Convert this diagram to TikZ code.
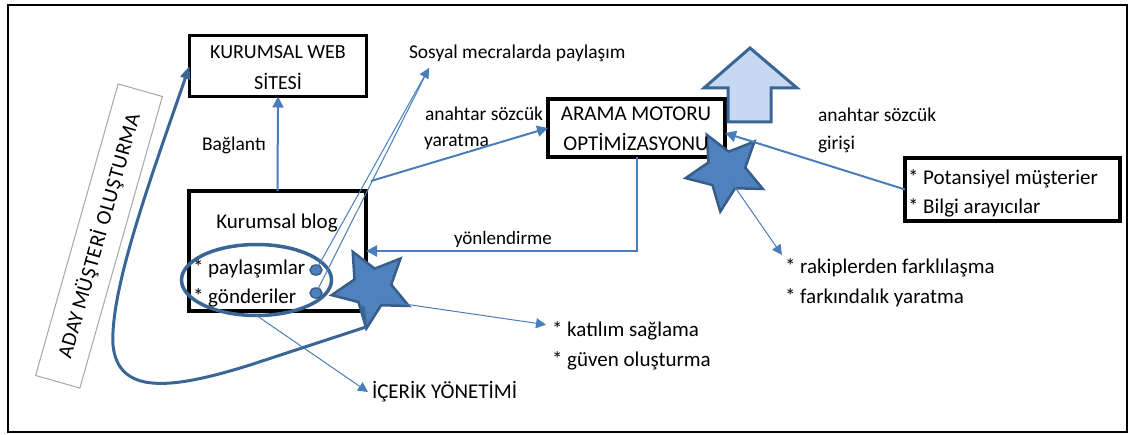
\documentclass[tikz,border=0pt]{standalone}
\usepackage{fontspec}
\setmainfont{Carlito}
\usetikzlibrary{arrows.meta,shapes.geometric}
\definecolor{lineblue}{HTML}{4A7EBB}
\definecolor{darkblue}{HTML}{3A6696}
\definecolor{starfill}{HTML}{4F81BD}
\definecolor{starline}{HTML}{385D8A}
\definecolor{paleblue}{HTML}{C6D9F1}
\begin{document}
\begin{tikzpicture}[x=1pt,y=-1pt,
  every node/.style={inner sep=0pt, outer sep=0pt},
  small/.style={font=\fontsize{19.5}{24}\selectfont},
  big/.style={font=\fontsize{21}{26}\selectfont},
  txt/.style={big, anchor=base west},
  stxt/.style={small, anchor=base west},
  ctxt/.style={big, anchor=base},
  boxframe/.style={draw=black, line width=3.5pt, rectangle},
  starnode/.style={star, star points=5, star point ratio=2.1, minimum size=82pt,
    shape border rotate=-44, fill=starfill, draw=starline, line width=2.5pt},
  thickconn/.style={draw=lineblue, line width=2pt, -{Triangle[length=11pt,width=11pt]}},
  thinconn/.style={draw=lineblue, line width=1pt, -{Triangle[length=10pt,width=10pt]}},
  smalldot/.style={ellipse, minimum width=12pt, minimum height=10pt,
    fill=starfill, draw=starline, line width=1.5pt}
]
\useasboundingbox (0,0) rectangle (1134,435);
% outer frame
\draw[black, line width=2pt] (8,5) rectangle (1127,432);

% boxes
\node[boxframe, minimum width=177pt, minimum height=61pt] (web) at (278,66) {};
\node[boxframe, minimum width=177pt, minimum height=120pt] (blog) at (277.5,251) {};
\node[boxframe, minimum width=177pt, minimum height=58pt] (arama) at (636.5,128) {};
\node[boxframe, minimum width=215pt, minimum height=63pt] (pot) at (1012.5,189.5) {};

% rotated caption box on the left
\node[draw=black!35, line width=1pt, minimum width=303pt, minimum height=46pt,
      rotate=74.2, font=\fontsize{21}{26}\selectfont\addfontfeature{LetterSpace=3}]
      (aday) at (99,236) {ADAY\,MÜŞTERİ OLUŞTURMA};

% ellipse around the blog items
\node[ellipse, draw=darkblue, line width=3.5pt, minimum width=150pt, minimum height=71pt]
      (circ) at (256.5,280) {};

% block arrow pointing up
\draw[darkblue, line width=3pt, fill=paleblue, line join=miter]
  (750,48) -- (797,88) -- (771,88) -- (771,122) -- (728,122) -- (728,88) -- (704,88) -- cycle;

% stars
\node[starnode] (starL) at (372,288) {};
\node[starnode] (starR) at (726,171) {};

% dots on the blog items
\node[smalldot] (dotA) at (316,270) {};
\node[smalldot] (dotB) at (316,293) {};

% texts
\node[ctxt, font=\fontsize{20}{24}\selectfont] (webA) at (278,58.7) {KURUMSAL WEB};
\node[ctxt, font=\fontsize{20}{24}\selectfont] (webB) at (278,89.3) {SİTESİ};
\node[stxt] (bag) at (202,150.7) {Bağlantı};
\node[ctxt] (blogT) at (277,229) {Kurumsal blog};
\node[txt] (pay) at (193,275) {* paylaşımlar};
\node[txt] (gon) at (193,304) {* gönderiler};
\node[stxt] (sosyal) at (409,58.7) {Sosyal mecralarda paylaşım};
\node[stxt] (anaL) at (425,120.7) {anahtar sözcük};
\node[stxt] (yar) at (424,146.7) {yaratma};
\node[ctxt] (aramaA) at (636,120.7) {ARAMA MOTORU};
\node[ctxt] (aramaB) at (636,150.7) {OPTİMİZASYONU};
\node[stxt, font=\fontsize{19}{24}\selectfont] (yon) at (454,245) {yönlendirme};
\node[txt] (kat1) at (552,336.7) {* katılım sağlama};
\node[txt] (kat2) at (552,366.7) {* güven oluşturma};
\node[txt] (icerik) at (372,398) {İÇERİK YÖNETİMİ};
\node[stxt] (anaR) at (818,121.7) {anahtar sözcük};
\node[stxt] (giris) at (818,150) {girişi};
\node[txt] (pot1) at (908,185) {* Potansiyel müşterier};
\node[txt] (pot2) at (908,214) {* Bilgi arayıcılar};
\node[txt] (rak1) at (785,274) {* rakiplerden farklılaşma};
\node[txt] (rak2) at (785,304) {* farkındalık yaratma};

% connector end points
\coordinate (sosTip) at (429,68);
\coordinate (fork) at (371,181);
\coordinate (katStart) at (377,300);
\coordinate (curveStart) at (363,306);

% connectors
\draw[thickconn] (blog.north) -- (web.south);
\draw[thinconn] (dotA.center) -- (sosTip);
\draw[draw=lineblue, line width=1pt] (dotB.center) -- (sosTip);
\draw[thickconn] (fork) -- (arama.west);
\draw[thickconn] (arama.south) |- (blog.east);
\draw[thickconn] (pot.west) -- ([yshift=-5pt]arama.east);
\draw[thinconn] (katStart) -- ([xshift=-6pt,yshift=12pt]kat1.base west);
\draw[thinconn] (circ.south) -- ([xshift=-4pt,yshift=6pt]icerik.base west);
\draw[thinconn] ([xshift=4pt,yshift=-9pt]starR.center) -- ([xshift=-3pt,yshift=19pt]rak1.base west);
\draw[darkblue, line width=3pt, line join=round,
      -{Triangle[length=13pt,width=10pt]}]
  (curveStart) -- (366,327) -- (250,365)
  .. controls (170,390) and (118,395) .. (113,345)
  .. controls (110,290) and (150,180) .. (web.west);
\end{tikzpicture}
\end{document}
